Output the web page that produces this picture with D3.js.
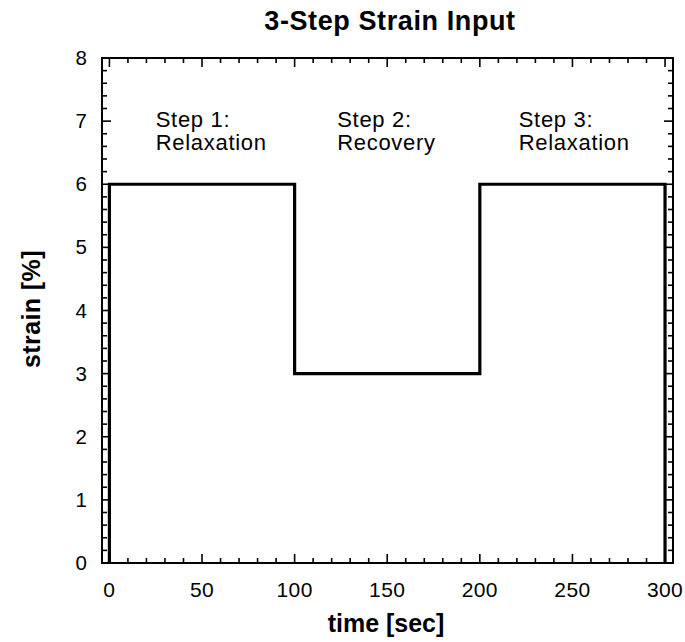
<!DOCTYPE html>
<html>
<head>
<meta charset="utf-8">
<script src="https://cdn.jsdelivr.net/npm/d3@7"></script>
<style>
  body { margin: 0; background: #fff; }
  text { font-family: "Liberation Sans", Arial, sans-serif; fill: #000; }
</style>
</head>
<body>
<svg id="chart" width="685" height="642"></svg>
<script>
// strain input steps (time in sec, strain in %)
const times = [0, 0, 100, 100, 200, 200, 300, 300];
const strains = [0, 6, 6, 3, 3, 6, 6, 0];

const xTicks = [0, 50, 100, 150, 200, 250, 300];
const yTicks = [0, 1, 2, 3, 4, 5, 6, 7, 8];

const notes = [
  { t: 25, lines: ["Step 1:", "Relaxation"] },
  { t: 123, lines: ["Step 2:", "Recovery"] },
  { t: 221, lines: ["Step 3:", "Relaxation"] }
];

const svg = d3.select("#chart");
const plotL = 102, plotR = 673, plotT = 58, plotB = 563;

const x = d3.scaleLinear().domain([-4, 304.3]).range([plotL, plotR]);
const y = d3.scaleLinear().domain([0, 8]).range([plotB, plotT]);

// minor ticks
const xMinor = d3.range(0, 301, 10).filter(v => v % 50 !== 0);
const yMinor = d3.range(0, 8.01, 0.2).filter(v => Math.abs(v - Math.round(v)) > 0.01);

const g = svg.append("g");

function tickSet(sel, vals, len, horiz) {
  vals.forEach(v => {
    if (horiz) {
      // bottom and top
      sel.append("line").attr("x1", x(v)).attr("x2", x(v)).attr("y1", plotB).attr("y2", plotB - len);
      sel.append("line").attr("x1", x(v)).attr("x2", x(v)).attr("y1", plotT).attr("y2", plotT + len);
    } else {
      sel.append("line").attr("y1", y(v)).attr("y2", y(v)).attr("x1", plotL).attr("x2", plotL + len);
      sel.append("line").attr("y1", y(v)).attr("y2", y(v)).attr("x1", plotR).attr("x2", plotR - len);
    }
  });
}

const ticks = g.append("g").attr("stroke", "#000").attr("stroke-width", 1.6);
tickSet(ticks, xTicks, 9, true);
tickSet(ticks, xMinor, 5, true);
tickSet(ticks, yTicks, 9, false);
tickSet(ticks, yMinor, 5, false);

g.append("rect")
  .attr("x", plotL).attr("y", plotT)
  .attr("width", plotR - plotL).attr("height", plotB - plotT)
  .attr("fill", "none").attr("stroke", "#000").attr("stroke-width", 2);

// tick labels
g.selectAll(".xl").data(xTicks).enter().append("text")
  .attr("x", d => x(d)).attr("y", 597)
  .attr("text-anchor", "middle").attr("font-size", 21).attr("letter-spacing", 0.4)
  .text(d => d);

g.selectAll(".yl").data(yTicks).enter().append("text")
  .attr("x", 87).attr("y", d => y(d) + 7)
  .attr("text-anchor", "end").attr("font-size", 20.5)
  .text(d => d);

// step line
const line = d3.line().x((d, i) => x(times[i])).y((d, i) => y(strains[i]));
g.append("path")
  .datum(times)
  .attr("d", line)
  .attr("fill", "none").attr("stroke", "#000").attr("stroke-width", 3.2)
  .attr("stroke-linejoin", "miter");

// annotations
notes.forEach(n => {
  const t = g.append("text").attr("font-size", 22).attr("letter-spacing", 0.7);
  n.lines.forEach((s, i) => {
    t.append("tspan").attr("x", x(n.t)).attr("y", 127 + i * 23).text(s);
  });
});

// titles
svg.append("text").attr("x", 390).attr("y", 30)
  .attr("text-anchor", "middle").attr("font-size", 27).attr("font-weight", "bold")
  .attr("letter-spacing", 0.6)
  .text("3-Step Strain Input");
svg.append("text").attr("x", 386).attr("y", 632)
  .attr("text-anchor", "middle").attr("font-size", 25).attr("font-weight", "bold")
  .text("time [sec]");
svg.append("text")
  .attr("transform", "translate(40,309) rotate(-90)")
  .attr("text-anchor", "middle").attr("font-size", 25).attr("font-weight", "bold")
  .attr("letter-spacing", 0.4)
  .text("strain [%]");
</script>
</body>
</html>
